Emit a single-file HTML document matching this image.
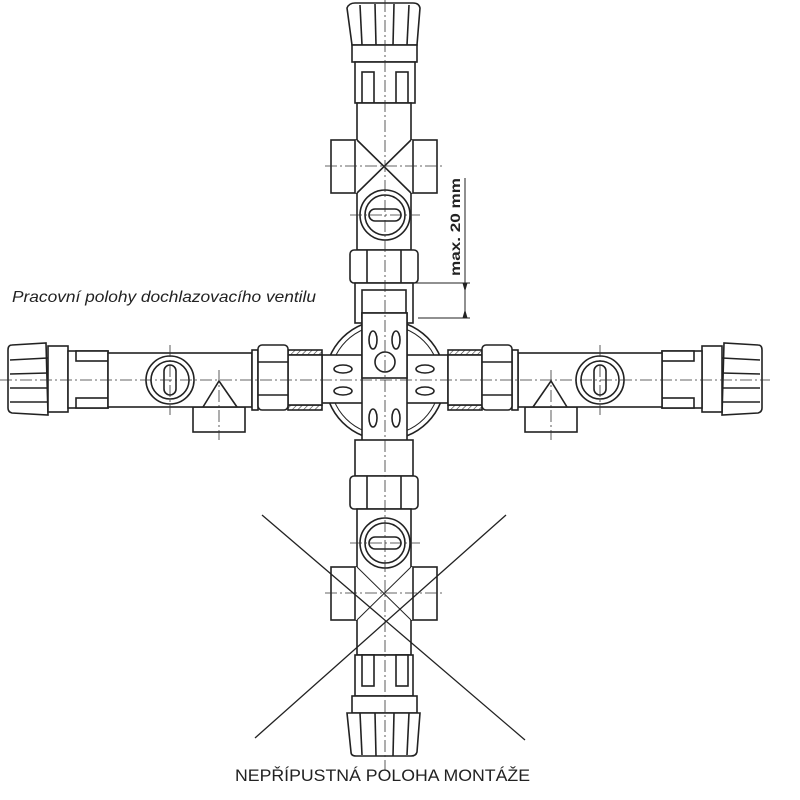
<!DOCTYPE html>
<html><head><meta charset="utf-8"><style>
html,body{margin:0;padding:0;background:#fff}
svg{display:block}
text{font-family:"Liberation Sans",sans-serif;fill:#222}
</style></head><body>
<svg width="800" height="800" viewBox="0 0 800 800" xmlns="http://www.w3.org/2000/svg">
<defs>
<pattern id="h" width="4" height="4" patternUnits="userSpaceOnUse" patternTransform="rotate(45)"><line x1="0" y1="0" x2="0" y2="4" stroke="#333" stroke-width="1.2"/></pattern>
</defs>
<g fill="#fff" stroke="#222" stroke-width="1.6">
<!-- TOP VALVE -->
<path d="M347,8 Q349,3 355,3 L413,3 Q419,3 420,8 L417,45 L352,45 Z"/>
<line x1="360" y1="5" x2="362" y2="45"/><line x1="375" y1="4" x2="376" y2="45"/><line x1="394" y1="4" x2="393" y2="45"/><line x1="409" y1="5" x2="407" y2="45"/>
<rect x="352" y="45" width="65" height="17"/>
<rect x="355" y="62" width="60" height="41"/>
<rect x="362" y="72" width="12" height="31"/><rect x="396" y="72" width="12" height="31"/>
<rect x="331" y="140" width="106" height="53"/>
<rect x="357" y="103" width="54" height="147"/>
<line x1="357" y1="140" x2="357" y2="193" stroke="#fff" stroke-width="3"/>
<line x1="411" y1="140" x2="411" y2="193" stroke="#fff" stroke-width="3"/>
<line x1="355" y1="140" x2="355" y2="193"/><line x1="413" y1="140" x2="413" y2="193"/>
<line x1="357" y1="140" x2="411" y2="193"/><line x1="411" y1="140" x2="357" y2="193"/>
<circle cx="385" cy="215" r="25"/><circle cx="385" cy="215" r="20"/>
<rect x="369" y="209" width="32" height="12" rx="6"/>
<rect x="350" y="250" width="68" height="33" rx="4"/>
<line x1="367" y1="250" x2="367" y2="283"/><line x1="401" y1="250" x2="401" y2="283"/>
<rect x="355" y="283" width="58" height="40"/>
<rect x="362" y="290" width="44" height="28"/>
<!-- CENTER HOUSING -->
<circle cx="385" cy="380" r="60"/>
<circle cx="385" cy="380" r="55" fill="none" stroke-width="1"/>
<rect x="322" y="355" width="126" height="48"/>
<rect x="362" y="313" width="45" height="134"/>
<rect x="362" y="313" width="45" height="65"/>
<circle cx="385" cy="362" r="10"/>
<ellipse cx="373" cy="340" rx="4" ry="9"/><ellipse cx="396" cy="340" rx="4" ry="9"/>
<ellipse cx="373" cy="418" rx="4" ry="9"/><ellipse cx="396" cy="418" rx="4" ry="9"/>
<ellipse cx="343" cy="369" rx="9" ry="4"/><ellipse cx="343" cy="391" rx="9" ry="4"/>
<ellipse cx="425" cy="369" rx="9" ry="4"/><ellipse cx="425" cy="391" rx="9" ry="4"/>
<!-- hatched stubs -->
<rect x="288" y="350" width="34" height="5" fill="url(#h)"/><rect x="288" y="405" width="34" height="5" fill="url(#h)"/>
<rect x="448" y="350" width="34" height="5" fill="url(#h)"/><rect x="448" y="405" width="34" height="5" fill="url(#h)"/>
<rect x="288" y="355" width="34" height="50"/><rect x="448" y="355" width="34" height="50"/>
<!-- LEFT VALVE -->
<path d="M12,345 L46,343 L48,415 L12,413 Q8,412 8,408 L8,350 Q8,345 12,345 Z"/>
<line x1="10" y1="360" x2="48" y2="358"/><line x1="10" y1="374" x2="48" y2="373"/><line x1="10" y1="388" x2="48" y2="388"/><line x1="10" y1="402" x2="48" y2="402"/>
<rect x="48" y="346" width="20" height="66"/>
<rect x="68" y="351" width="40" height="57"/>
<rect x="76" y="351" width="32" height="10"/><rect x="76" y="398" width="32" height="10"/>
<rect x="193" y="407" width="52" height="25"/>
<rect x="108" y="353" width="144" height="54"/>
<path d="M203,407 L219,381 L237,407" fill="none"/>
<circle cx="170" cy="380" r="24"/><circle cx="170" cy="380" r="19"/>
<rect x="164" y="365" width="12" height="30" rx="6"/>
<rect x="252" y="350" width="6" height="60"/>
<rect x="258" y="345" width="30" height="65" rx="4"/>
<line x1="258" y1="362" x2="288" y2="362"/><line x1="258" y1="395" x2="288" y2="395"/>
<!-- RIGHT VALVE -->
<g transform="translate(770,0) scale(-1,1)">
<path d="M12,345 L46,343 L48,415 L12,413 Q8,412 8,408 L8,350 Q8,345 12,345 Z"/>
<line x1="10" y1="360" x2="48" y2="358"/><line x1="10" y1="374" x2="48" y2="373"/><line x1="10" y1="388" x2="48" y2="388"/><line x1="10" y1="402" x2="48" y2="402"/>
<rect x="48" y="346" width="20" height="66"/>
<rect x="68" y="351" width="40" height="57"/>
<rect x="76" y="351" width="32" height="10"/><rect x="76" y="398" width="32" height="10"/>
<rect x="193" y="407" width="52" height="25"/>
<rect x="108" y="353" width="144" height="54"/>
<path d="M203,407 L219,381 L237,407" fill="none"/>
<circle cx="170" cy="380" r="24"/><circle cx="170" cy="380" r="19"/>
<rect x="164" y="365" width="12" height="30" rx="6"/>
<rect x="252" y="350" width="6" height="60"/>
<rect x="258" y="345" width="30" height="65" rx="4"/>
<line x1="258" y1="362" x2="288" y2="362"/><line x1="258" y1="395" x2="288" y2="395"/>
</g>
<!-- BOTTOM VALVE -->
<rect x="355" y="440" width="58" height="36"/>
<rect x="350" y="476" width="68" height="33" rx="4"/>
<line x1="367" y1="476" x2="367" y2="509"/><line x1="401" y1="476" x2="401" y2="509"/>
<rect x="331" y="567" width="106" height="53"/>
<rect x="357" y="509" width="54" height="146"/>
<line x1="357" y1="567" x2="357" y2="620" stroke="#fff" stroke-width="3"/>
<line x1="411" y1="567" x2="411" y2="620" stroke="#fff" stroke-width="3"/>
<line x1="355" y1="567" x2="355" y2="620"/><line x1="413" y1="567" x2="413" y2="620"/>
<line x1="357" y1="567" x2="411" y2="620" stroke-width="1"/><line x1="411" y1="567" x2="357" y2="620" stroke-width="1"/>
<circle cx="385" cy="543" r="25"/><circle cx="385" cy="543" r="20"/>
<rect x="369" y="537" width="32" height="12" rx="6"/>
<rect x="355" y="655" width="58" height="41"/>
<rect x="362" y="655" width="12" height="31"/><rect x="396" y="655" width="12" height="31"/>
<rect x="352" y="696" width="65" height="17"/>
<path d="M347,713 L420,713 L417,752 Q416,756 411,756 L356,756 Q351,756 351,752 Z"/>
<line x1="360" y1="713" x2="362" y2="755"/><line x1="375" y1="713" x2="376" y2="756"/><line x1="394" y1="713" x2="393" y2="756"/><line x1="409" y1="713" x2="407" y2="755"/>
</g>
<!-- center lines -->
<g stroke="#333" stroke-width="0.8" stroke-dasharray="12,3,2,3" fill="none">
<line x1="385" y1="0" x2="385" y2="770"/>
<line x1="0" y1="380" x2="770" y2="380"/>
<line x1="325" y1="166" x2="445" y2="166"/>
<line x1="325" y1="593" x2="445" y2="593"/>
<line x1="350" y1="215" x2="420" y2="215"/>
<line x1="350" y1="543" x2="420" y2="543"/>
<line x1="170" y1="345" x2="170" y2="415"/><line x1="600" y1="345" x2="600" y2="415"/>
<line x1="219" y1="370" x2="219" y2="440"/><line x1="551" y1="370" x2="551" y2="440"/>
</g>
<!-- X cross -->
<g stroke="#222" stroke-width="1.3">
<line x1="262" y1="515" x2="525" y2="740"/>
<line x1="506" y1="515" x2="255" y2="738"/>
</g>
<!-- dimension -->
<g stroke="#222" stroke-width="1" fill="#222">
<line x1="413" y1="283" x2="470" y2="283"/>
<line x1="418" y1="318" x2="470" y2="318"/>
<line x1="465" y1="178" x2="465" y2="318"/>
<path d="M463,283 L465,290 L467,283 Z"/><path d="M463,318 L465,311 L467,318 Z"/>
</g>
<text transform="translate(460,227) rotate(-90)" font-size="14" font-weight="bold" text-anchor="middle" textLength="98" lengthAdjust="spacingAndGlyphs">max. 20 mm</text>
<text x="12" y="302" font-size="16" font-style="italic" textLength="304" lengthAdjust="spacingAndGlyphs">Pracovní polohy dochlazovacího ventilu</text>
<text x="235" y="781" font-size="16.5" textLength="295" lengthAdjust="spacingAndGlyphs">NEPŘÍPUSTNÁ POLOHA MONTÁŽE</text>
</svg>
</body></html>
